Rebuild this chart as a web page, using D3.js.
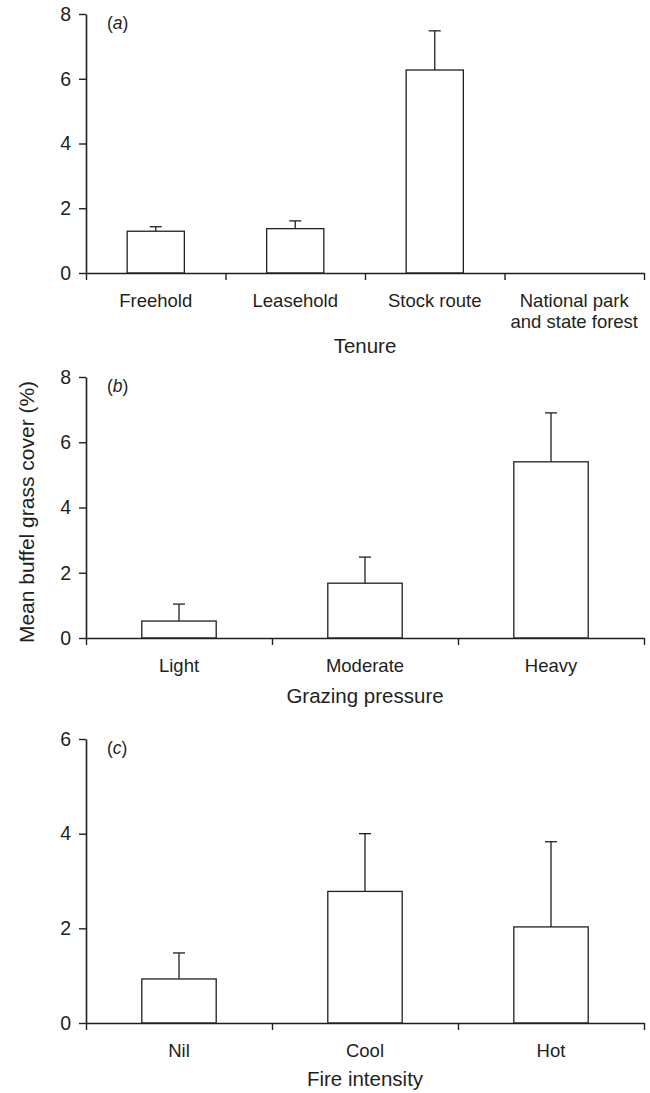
<!DOCTYPE html>
<html lang="en">

<head>
    <meta charset="UTF-8">
    <title>Buffel grass cover</title>
    <style>
        body {
            margin: 0;
            background: #fff;
        }

        svg {
            display: block;
            font-family: "Liberation Sans", Arial, sans-serif;
        }
    </style>
</head>

<body>
    <svg width="650" height="1093"></svg>

    <script src="https://d3js.org/d3.v7.min.js"></script>
    <script>
        // values (mean and upper error bar length)
        const tenureCats = [["Freehold"], ["Leasehold"], ["Stock route"], ["National park", "and state forest"]];
        const tenureMean = [1.29, 1.37, 6.27, 0];
        const tenureErr = [0.14, 0.24, 1.21, 0];

        const grazingCats = [["Light"], ["Moderate"], ["Heavy"]];
        const grazingMean = [0.52, 1.68, 5.40];
        const grazingErr = [0.52, 0.80, 1.50];

        const fireCats = [["Nil"], ["Cool"], ["Hot"]];
        const fireMean = [0.93, 2.78, 2.03];
        const fireErr = [0.55, 1.22, 1.80];

        const ticks8 = [0, 2, 4, 6, 8];
        const ticks6 = [0, 2, 4, 6];

        const ink = "#231f20";
        const svg = d3.select("svg");

        // one panel = one small bar chart
        function panel(opt) {
            const g = svg.append("g");
            const n = opt.cats.length;

            const y = d3.scaleLinear().domain([0, opt.ymax]).range([opt.y0, opt.y1]);
            const x = d3.scaleBand().domain(d3.range(n)).range([86, 644]).padding(0);
            const edge = d3.scaleLinear().domain([0, n]).range([86, 644]);

            // bars
            const bw = x.bandwidth() * opt.barFrac;
            g.selectAll("rect")
                .data(opt.mean)
                .enter()
                .append("rect")
                .attr("x", (d, i) => x(i) + x.bandwidth() / 2 - bw / 2)
                .attr("y", d => y(d))
                .attr("width", bw)
                .attr("height", d => y(0) - y(d))
                .attr("fill", "#fff")
                .attr("stroke", ink)
                .attr("stroke-width", 1.3);

            // error bars (upper only)
            const eb = g.selectAll(".err")
                .data(opt.mean.map((m, i) => ({ m: m, e: opt.err[i], i: i })).filter(d => d.e > 0))
                .enter()
                .append("g")
                .attr("class", "err")
                .attr("stroke", ink)
                .attr("stroke-width", 1.3);
            eb.append("line")
                .attr("x1", d => x(d.i) + x.bandwidth() / 2)
                .attr("x2", d => x(d.i) + x.bandwidth() / 2)
                .attr("y1", d => y(d.m))
                .attr("y2", d => y(d.m + d.e));
            eb.append("line")
                .attr("x1", d => x(d.i) + x.bandwidth() / 2 - 6)
                .attr("x2", d => x(d.i) + x.bandwidth() / 2 + 6)
                .attr("y1", d => y(d.m + d.e))
                .attr("y2", d => y(d.m + d.e));

            // y axis
            const ya = g.append("g")
                .attr("transform", "translate(86,0)")
                .call(d3.axisLeft(y).tickValues(opt.yticks).tickFormat(d3.format("d"))
                    .tickSize(7).tickSizeOuter(0).tickPadding(8));
            ya.select(".domain").attr("stroke", ink).attr("stroke-width", 1.6);
            ya.selectAll(".tick line").attr("stroke", ink).attr("stroke-width", 1.4);
            ya.selectAll(".tick text")
                .attr("fill", ink)
                .attr("font-size", 19.5)
                .attr("font-family", "Liberation Sans, Arial, sans-serif");

            // x axis: ticks at category edges
            const xa = g.append("g")
                .attr("transform", "translate(0," + y(0) + ")")
                .call(d3.axisBottom(edge).tickValues(d3.range(n + 1)).tickFormat("").tickSize(7).tickSizeOuter(0));
            xa.select(".domain").attr("stroke", ink).attr("stroke-width", 1.6);
            xa.selectAll(".tick line").attr("stroke", ink).attr("stroke-width", 1.4);

            // category labels
            const lab = g.selectAll(".cat")
                .data(opt.cats)
                .enter()
                .append("text")
                .attr("class", "cat")
                .attr("text-anchor", "middle")
                .attr("font-size", 18.5)
                .attr("fill", ink);
            lab.selectAll("tspan")
                .data((d, i) => d.map((s, k) => ({ s: s, k: k, i: i })))
                .enter()
                .append("tspan")
                .attr("x", d => x(d.i) + x.bandwidth() / 2)
                .attr("y", d => y(0) + 33.5 + d.k * 21.5)
                .text(d => d.s);

            // axis title
            g.append("text")
                .attr("x", 365)
                .attr("y", opt.titleY)
                .attr("text-anchor", "middle")
                .attr("font-size", 20.5)
                .attr("fill", ink)
                .text(opt.title);

            // panel letter
            const pl = g.append("text")
                .attr("x", 107)
                .attr("y", opt.y1 + 15)
                .attr("font-size", 17.5)
                .attr("fill", ink);
            pl.append("tspan").text("(");
            pl.append("tspan").attr("font-style", "italic").text(opt.letter);
            pl.append("tspan").text(")");
        }

        panel({ cats: tenureCats, mean: tenureMean, err: tenureErr, ymax: 8, yticks: ticks8,
            y0: 273, y1: 14, barFrac: 0.41, title: "Tenure", titleY: 353, letter: "a" });
        panel({ cats: grazingCats, mean: grazingMean, err: grazingErr, ymax: 8, yticks: ticks8,
            y0: 638, y1: 377, barFrac: 0.4, title: "Grazing pressure", titleY: 703, letter: "b" });
        panel({ cats: fireCats, mean: fireMean, err: fireErr, ymax: 6, yticks: ticks6,
            y0: 1023, y1: 739, barFrac: 0.4, title: "Fire intensity", titleY: 1086, letter: "c" });

        // shared y title
        svg.append("text")
            .attr("transform", "translate(34,512) rotate(-90)")
            .attr("text-anchor", "middle")
            .attr("font-size", 21)
            .attr("fill", ink)
            .text("Mean buffel grass cover (%)");
    </script>
</body>

</html>
